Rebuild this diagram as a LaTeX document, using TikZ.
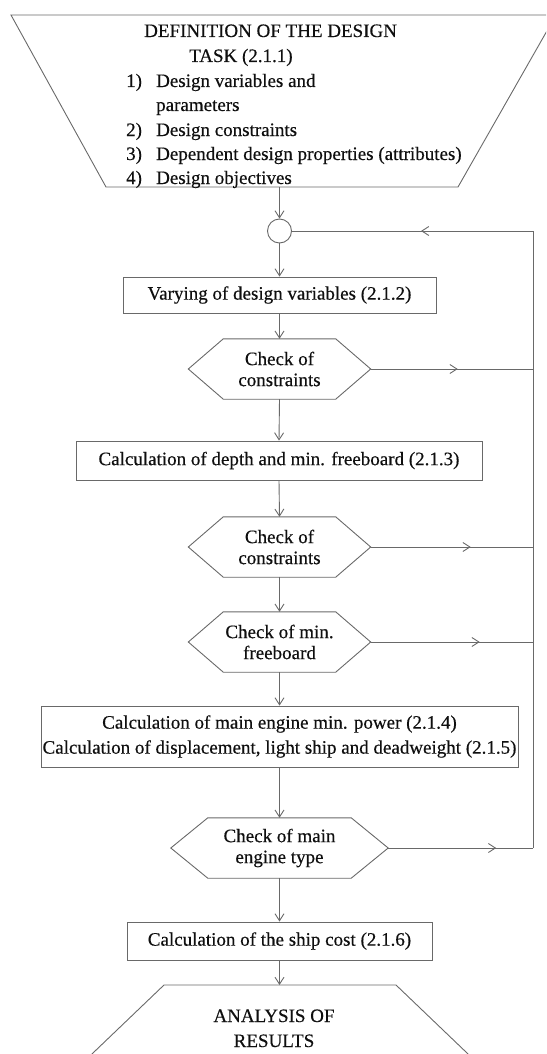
\documentclass[tikz,border=0pt]{standalone}
\usepackage{fontspec}
\setmainfont{Liberation Serif}[FakeBold=0.4]
\usetikzlibrary{arrows.meta,decorations.markings}
\definecolor{lc}{RGB}{105,105,105}
\definecolor{tc}{RGB}{15,15,15}
\newcommand\hexnode[6]{%
  \node[hexshape, minimum width=#4pt] (#1) at (#2,#3) {#6};
  \draw[ln] (#1.west) -- ([xshift=#5pt]#1.north west) -- ([xshift=-#5pt]#1.north east) -- (#1.east) -- ([xshift=-#5pt]#1.south east) -- ([xshift=#5pt]#1.south west) -- cycle;}
\begin{document}
\begin{tikzpicture}[x=1pt,y=-1pt,
  ln/.style={draw=lc,line width=0.9pt},
  arr/.style={ln,-{Straight Barb[length=7pt,width=9pt]}},
  box/.style={ln,rectangle,inner sep=0pt,text=tc,font=\fontsize{19}{25}\selectfont,align=center},
  hexshape/.style={rectangle,inner sep=0pt,minimum height=60pt,text=tc,font=\fontsize{19}{21}\selectfont,align=center},
  txt/.style={text=tc,font=\fontsize{19}{25}\selectfont,inner sep=0pt,anchor=base west},
  midarr/.style={ln,postaction={decorate},decoration={markings,mark=at position #1 with {\arrow[lc,line width=0.9pt]{Straight Barb[length=7pt,width=9pt]}}}}
]
\useasboundingbox (0,0) rectangle (546,1054);
\clip (0,0) rectangle (546,1054);

% top trapezoid
\draw[ln] (11,15) -- (556,15) -- (458,187) -- (106,187) -- cycle;
\coordinate (defbot) at (279.5,187);
\node[txt] (d1) at (144,37) {DEFINITION OF THE DESIGN};
\node[txt] (d2) at (189,62) {TASK (2.1.1)};
\node[txt] (n1) at (126,87) {1)};
\node[txt] (i1) at (156,87) {Design variables and};
\node[txt] (i1b) at (156,111) {parameters};
\node[txt] (n2) at (126,136) {2)};
\node[txt] (i2) at (156,136) {Design constraints};
\node[txt] (n3) at (126,160) {3)};
\node[txt] (i3) at (156,160) {Dependent design properties (attributes)};
\node[txt] (n4) at (126,184) {4)};
\node[txt] (i4) at (156,184) {Design objectives};

% junction circle
\node[ln,circle,minimum size=24pt,inner sep=0pt] (circ) at (279.5,231) {};

% boxes
\node[box,minimum width=313pt,minimum height=36pt] (b1) at (279.5,295) {Varying of design variables (2.1.2)};
\node[box,minimum width=406pt,minimum height=39pt] (b2) at (279,460.5) {Calculation of depth and min. freeboard (2.1.3)};
\node[box,minimum width=477pt,minimum height=61pt] (b3) at (279.5,736.5) {Calculation of main engine min. power (2.1.4)\\Calculation of displacement, light ship and deadweight (2.1.5)};
\node[box,minimum width=305pt,minimum height=38pt] (b4) at (279.5,941) {Calculation of the ship cost (2.1.6)};

% hexagons
\hexnode{h1}{279.5}{369}{182}{35}{Check of\\constraints}
\hexnode{h2}{279.5}{547}{182}{35}{Check of\\constraints}
\hexnode{h3}{279.5}{642}{182}{35}{Check of min.\\freeboard}
\hexnode{h4}{279.5}{848}{217}{37}{Check of main\\engine type}

% bottom trapezoid
\draw[ln] (70,1075) -- (164,985) -- (396,985) -- (490,1075);
\coordinate (restop) at (279.5,985);
\node[txt,anchor=base] (res1) at (274,1022) {ANALYSIS OF};
\node[txt,anchor=base] (res2) at (274,1047) {RESULTS};

% main flow
\draw[arr] (defbot) -- (circ.north);
\draw[arr] (circ.south) -- (b1.north);
\draw[arr] (b1.south) -- (h1.north);
\draw[arr] (h1.south) -- (b2.north);
\draw[arr] (b2.south) -- (h2.north);
\draw[arr] (h2.south) -- (h3.north);
\draw[arr] (h3.south) -- (b3.north);
\draw[arr] (b3.south) -- (h4.north);
\draw[arr] (h4.south) -- (b4.north);
\draw[arr] (b4.south) -- (restop);

% feedback loop
\coordinate (fb1) at (533,369);
\coordinate (fb2) at (533,547);
\coordinate (fb3) at (533,642);
\coordinate (fb4) at (533,848);
\coordinate (fbtop) at (533,231);
\draw[midarr=87pt] (h1.east) -- (fb1);
\draw[midarr=100pt] (h2.east) -- (fb2);
\draw[midarr=109pt] (h3.east) -- (fb3);
\draw[midarr=108pt] (h4.east) -- (fb4);
\draw[ln] (fb4) -- (fbtop);
\draw[midarr=112pt] (fbtop) -- (circ.east);
\end{tikzpicture}
\end{document}
